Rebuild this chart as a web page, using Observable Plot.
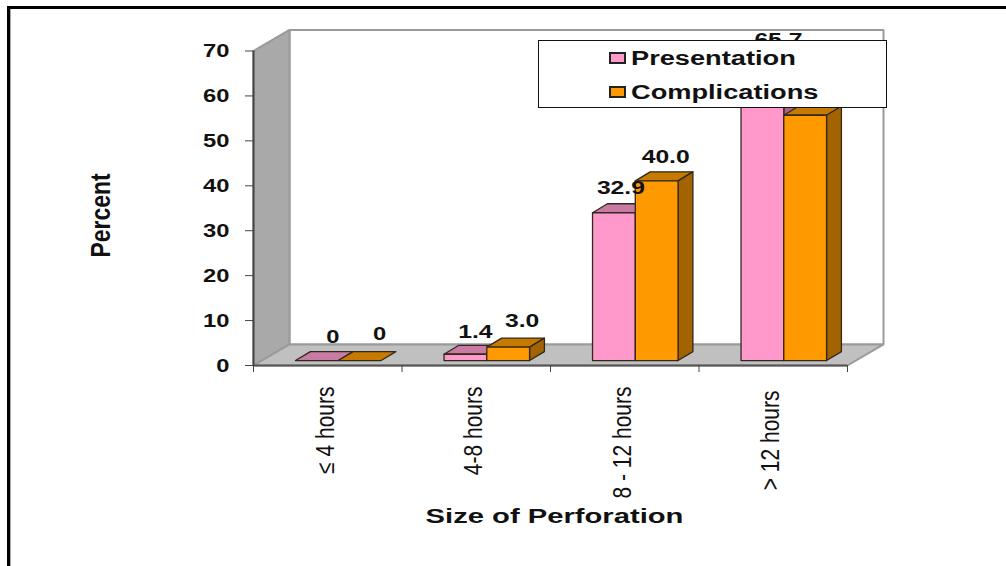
<!DOCTYPE html>
<html>
<head>
<meta charset="utf-8">
<script src="https://cdn.jsdelivr.net/npm/d3@7"></script>
<script src="https://cdn.jsdelivr.net/npm/@observablehq/plot@0.6"></script>
<style>
  html, body { margin: 0; background: #fff; }
  #page { position: relative; width: 1006px; height: 566px; overflow: hidden; font-family: "Liberation Sans", Arial, sans-serif; }
  #page svg { position: absolute; left: 0; top: 0; }
  #edge { position: absolute; left: 7px; top: 6px; right: 0; bottom: 0; border-top: 3px solid #000; border-left: 3px solid #000; }
  #edge::before { content: ""; position: absolute; left: 0; top: 0; bottom: 0; width: 1px; background: #aaa; }
  #legend { position: absolute; left: 538px; top: 40px; width: 347px; height: 66px; background: #fff; border: 1px solid #111; }
  #legend .row { position: absolute; left: 70px; white-space: nowrap; color: #111; font-weight: bold; font-size: 20px; line-height: 24px; }
  #legend .swatch { position: absolute; left: 0; top: 6px; width: 13px; height: 8px; border: 2px solid #222; }
  #legend .name { position: absolute; left: 22px; top: 0; transform-origin: left center; }
</style>
</head>
<body>
<div id="page">
  <div id="legend"></div>
  <div id="edge"></div>
</div>
<script>
// Percent of cases by time to treatment, one value per group and series.
const categories = ["≤ 4 hours", "4-8 hours", "8 - 12 hours", "> 12 hours"];
const presentation = [0, 1.4, 32.9, 65.7];
const complications = [0, 3.0, 40.0, 54.6];
const presentationLabels = ["0", "1.4", "32.9", "65.7"];
const complicationLabels = ["0", "3.0", "40.0", null];
const yTicks = [0, 10, 20, 30, 40, 50, 60, 70];
const xTicks = [0, 1, 2, 3, 4];

// Projection of the box: x is in category widths, y in percent.
const wallDx = 0.2424, wallDy = 4.68, yTop = 70;
const barDx = 0.1, barDy = 2, barLift = 1.1, barWidth = 0.288, barInset = 0.283;

const categoryDrop = [21, 21, 21, 25];

const series = [
  {name: "Presentation", values: presentation, labels: presentationLabels, slot: 0,
   front: "#ff99cc", top: "#c87ba3", side: "#a8648a",
   nudge: [[16, -24], [10, -22], [7, -25], [16, -25]]},
  {name: "Complications", values: complications, labels: complicationLabels, slot: 1,
   front: "#ff9900", top: "#c67a00", side: "#a36300",
   nudge: [[20, -27], [14, -26], [9, -24], [0, -24]]}
];

const shell = [];
function face(rows, id, fill, points) {
  [...points, points[0]].forEach(([x, y]) => rows.push({id, fill, x, y}));
}
face(shell, "back", "#ffffff", [[wallDx, wallDy], [4 + wallDx, wallDy], [4 + wallDx, yTop + wallDy], [wallDx, yTop + wallDy]]);
face(shell, "left", "#a9a9a9", [[0, 0], [wallDx, wallDy], [wallDx, yTop + wallDy], [0, yTop]]);
face(shell, "floor", "#c0c0c0", [[0, 0], [wallDx, wallDy], [4 + wallDx, wallDy], [4, 0]]);

// Each bar is painted top, side, front, and the series left to right.
const bars = [];
series.forEach(s => {
  s.values.forEach((v, i) => {
    const x0 = i + barInset + s.slot * barWidth, x1 = x0 + barWidth;
    const y0 = barLift, y1 = barLift + v;
    const key = s.name + i;
    face(bars, key + "top", s.top, [[x0, y1], [x1, y1], [x1 + barDx, y1 + barDy], [x0 + barDx, y1 + barDy]]);
    if (v > 0) {
      face(bars, key + "side", s.side, [[x1, y0], [x1 + barDx, y0 + barDy], [x1 + barDx, y1 + barDy], [x1, y1]]);
      face(bars, key + "front", s.front, [[x0, y0], [x1, y0], [x1, y1], [x0, y1]]);
    }
  });
});

const valueMarks = series.flatMap(s => s.values.map((v, i) => s.labels[i] === null ? null :
  Plot.text([{x: i + barInset + (s.slot + 0.5) * barWidth, y: barLift + v, t: s.labels[i]}], {
    x: "x", y: "y", text: "t", dx: s.nudge[i][0], dy: s.nudge[i][1],
    fontSize: 19, fontWeight: "bold", fill: "#111"
  })).filter(Boolean));

const categoryMarks = categories.map((c, i) =>
  Plot.text([c], {
    x: () => i + 0.5, y: () => 0, text: d => d, dx: -2, dy: categoryDrop[i], rotate: -90, textAnchor: "end",
    fontSize: 25, fill: "#111"
  }));

const chart = Plot.plot({
  width: 1006, height: 566,
  marginTop: 50.5, marginRight: 159, marginBottom: 201, marginLeft: 253,
  style: {fontFamily: "'Liberation Sans', Arial, sans-serif", background: "transparent", overflow: "visible"},
  x: {domain: [0, 4]},
  y: {domain: [0, 70]},
  color: {type: "identity"},
  marks: [
    Plot.line(shell, {x: "x", y: "y", z: "id", fill: "fill", stroke: "#9a9a9a", strokeWidth: 2, strokeLinejoin: "miter"}),
    Plot.ruleY([0], {x1: 0, x2: 4, stroke: "#555", strokeWidth: 2}),
    Plot.ruleX([0], {y1: 0, y2: 70, stroke: "#444", strokeWidth: 2}),
    Plot.axisY(yTicks, {tickSize: 8, tickPadding: 16, tickFormat: d => String(d), fontSize: 19, fontWeight: "bold", fill: "#111", stroke: "#444", label: null}),
    Plot.axisX(xTicks, {tickSize: 7, tickFormat: () => "", stroke: "#444", label: null, anchor: "bottom"}),
    Plot.line(bars, {x: "x", y: "y", z: "id", fill: "fill", stroke: "#33281c", strokeWidth: 1.3}),
    ...valueMarks,
    ...categoryMarks,
    Plot.text(["Size of Perforation"], {
      x: () => 2, y: () => 0, text: d => d, dx: 4, dy: 151,
      fontSize: 21, fontWeight: "bold", fill: "#111"
    }),
    Plot.text(["Percent"], {
      x: () => 0, y: () => 33.4, text: d => d, dx: -152, rotate: -90,
      fontSize: 27, fontWeight: "bold", fill: "#111"
    })
  ]
});

const page = document.getElementById("page");
page.insertBefore(chart, page.firstChild);

// Widen or narrow text along its run, keeping the glyph height.
const runScale = new Map([
  ["Size of Perforation", 1.39],
  ["Percent", 0.85],
  ...categories.map(c => [c, 0.84]),
  ...[...presentationLabels, ...complicationLabels].map(t => [t, 1.3]),
  ...yTicks.map(t => [String(t), 1.25])
]);
chart.querySelectorAll("text").forEach(el => {
  const k = runScale.get(el.textContent);
  if (!k) return;
  el.setAttribute("textLength", el.getComputedTextLength() * k);
  el.setAttribute("lengthAdjust", "spacingAndGlyphs");
});

// Legend sits above the plot and covers whatever runs behind it.
const legend = document.getElementById("legend");
series.forEach((s, i) => {
  const row = document.createElement("div");
  row.className = "row";
  row.style.top = (5 + i * 34) + "px";
  const sw = document.createElement("div");
  sw.className = "swatch";
  sw.style.background = s.front;
  const nm = document.createElement("div");
  nm.className = "name";
  nm.textContent = s.name;
  nm.style.transform = "scaleX(1.36)";
  row.append(sw, nm);
  legend.append(row);
});
</script>
</body>
</html>
